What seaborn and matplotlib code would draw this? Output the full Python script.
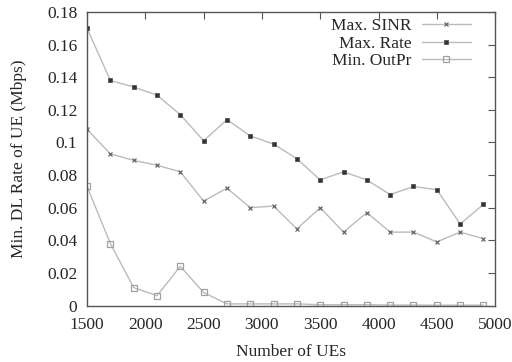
import matplotlib
matplotlib.use("Agg")
import matplotlib.pyplot as plt
import seaborn as sns
import pandas as pd

ues = [1500, 1700, 1900, 2100, 2300, 2500, 2700, 2900, 3100, 3300,
       3500, 3700, 3900, 4100, 4300, 4500, 4700, 4900]
max_sinr = [0.108, 0.093, 0.089, 0.086, 0.082, 0.064, 0.072, 0.060, 0.061, 0.047,
            0.060, 0.045, 0.057, 0.045, 0.045, 0.039, 0.045, 0.041]
max_rate = [0.170, 0.138, 0.134, 0.129, 0.117, 0.101, 0.114, 0.104, 0.099, 0.090,
            0.077, 0.082, 0.077, 0.068, 0.073, 0.071, 0.050, 0.062]
min_outpr = [0.073, 0.038, 0.011, 0.006, 0.024, 0.008, 0.001, 0.001, 0.001, 0.001,
             0.0005, 0.0005, 0.0005, 0.0003, 0.0003, 0.0002, 0.0002, 0.0002]
series_names = ["Max. SINR", "Max. Rate", "Min. OutPr"]
xticks = [1500, 2000, 2500, 3000, 3500, 4000, 4500, 5000]
yticks = [0, 0.02, 0.04, 0.06, 0.08, 0.1, 0.12, 0.14, 0.16, 0.18]
ytick_labels = ["0", "0.02", "0.04", "0.06", "0.08", "0.1", "0.12", "0.14", "0.16", "0.18"]

sns.set_style("white")
plt.rcParams["font.family"] = ["Liberation Serif", "DejaVu Serif"]
plt.rcParams["font.size"] = 12.5

fig = plt.figure(figsize=(5.12, 3.62), dpi=100)
ax = fig.add_axes([0.170, 0.156, 0.797, 0.811])

styles = [
    dict(marker="x", markersize=3.5, markeredgewidth=0.9, markeredgecolor="#666666", markerfacecolor="none"),
    dict(marker="s", markersize=3.2, markeredgewidth=0.6, markeredgecolor="#555555", markerfacecolor="#333333"),
    dict(marker="s", markersize=4.5, markeredgewidth=0.9, markeredgecolor="#a0a0a0", markerfacecolor="none"),
]
for name, vals, st in zip(series_names, [max_sinr, max_rate, min_outpr], styles):
    df = pd.DataFrame({"ues": ues, "rate": vals})
    sns.lineplot(data=df, x="ues", y="rate", ax=ax, color="#bbbbbb", linewidth=1.0,
                 label=name, **st)

ax.set_xlim(1500, 5000)
ax.set_ylim(0, 0.18)
ax.set_xticks(xticks)
ax.set_xticklabels([str(t) for t in xticks])
ax.set_yticks(yticks)
ax.set_yticklabels(ytick_labels)
ax.tick_params(direction="in", length=5, width=0.8, color="#555555", top=True, right=True,
               labelsize=12.5, pad=7)
ax.tick_params(axis="x", pad=8)
for s in ax.spines.values():
    s.set_color("#555555")
    s.set_linewidth(1.0)
ax.set_xlabel("Number of UEs", fontsize=12.5, labelpad=8)
ax.set_ylabel("Min. DL Rate of UE (Mbps)", fontsize=12.5, labelpad=14)

leg = ax.legend(loc="upper right", frameon=False, markerfirst=False, fontsize=12.5,
                handlelength=2.8, labelspacing=0.08, borderaxespad=0.3, handletextpad=0.6,
                bbox_to_anchor=(0.97, 1.02))

fig.savefig("out.png", dpi=100)
